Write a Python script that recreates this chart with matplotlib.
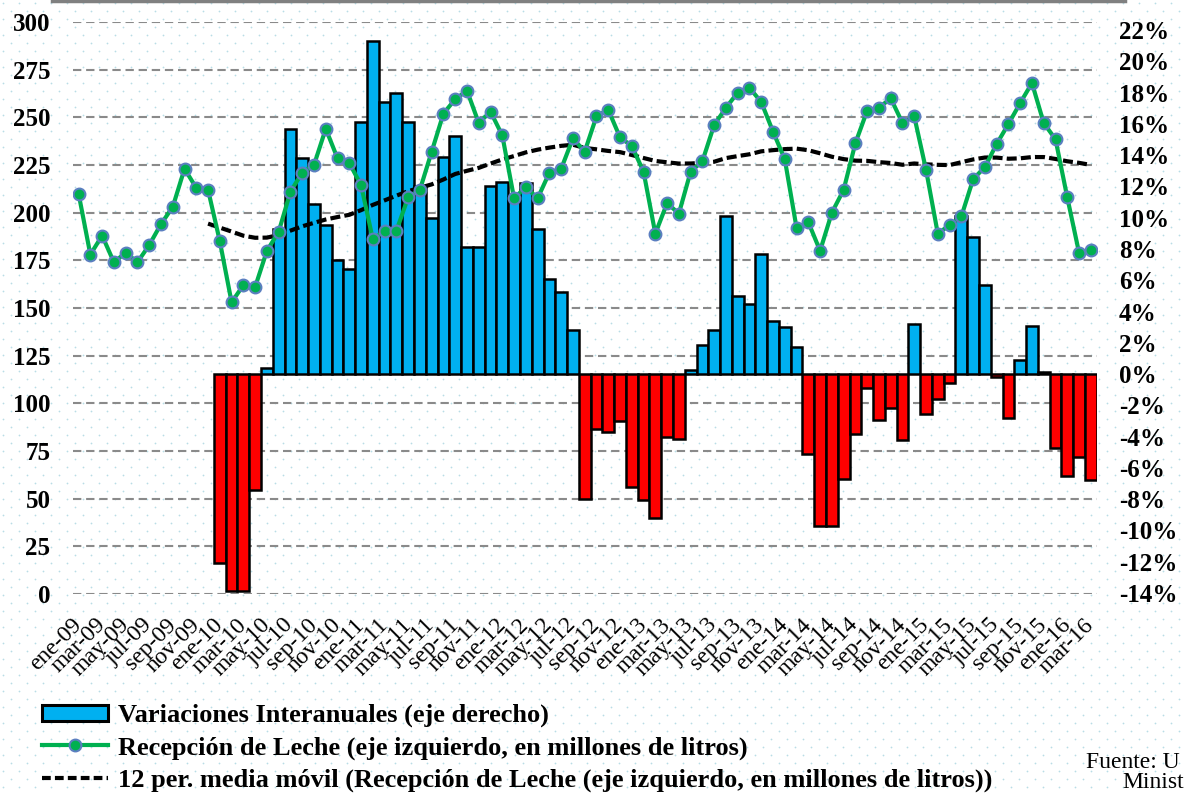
import numpy as np
import pandas as pd
import matplotlib
matplotlib.use('Agg')
import matplotlib.pyplot as plt
from matplotlib.lines import Line2D
from matplotlib.patches import Patch

plt.rcParams['font.family'] = ['Liberation Serif', 'DejaVu Serif']

# ---------------- data ----------------
month_abbr = ['ene', 'feb', 'mar', 'abr', 'may', 'jun', 'jul', 'ago', 'sep', 'oct', 'nov', 'dic']
categories = [f"{m}-{y:02d}" for y in range(9, 17) for m in month_abbr][:87]

# Recepción de Leche (millones de litros), ene-09 .. mar-16
milk = [210, 178, 188, 174, 179, 174, 183, 194, 203, 223, 213, 212,
        185, 153, 162, 161, 180, 190, 211, 221, 225, 244, 228.5, 226,
        214.5, 186, 190.5, 190.5, 208, 212, 232, 252, 259.5, 264, 247, 253,
        240.5, 207.5, 213.5, 207.5, 221, 223, 239, 232, 250.5, 254, 239.5, 235,
        221.5, 189, 205, 199.5, 221.5, 227, 246, 255, 263, 265.5, 258, 242.5,
        228, 192, 195, 180, 200, 212, 236.5, 253.5, 255, 260, 247, 250.5,
        222.5, 189, 193.5, 198, 217.5, 224, 236, 246.5, 257.5, 268, 247, 238.5,
        208, 179, 180.5]

# Variaciones interanuales (%), ene-10 .. mar-16
var_start = 12
variation = [-12.1, -13.9, -13.9, -7.4, 0.4, 9.3, 15.7, 13.8, 10.9, 9.5, 7.3, 6.75,
             16.1, 21.3, 17.4, 18.0, 16.1, 12.0, 10.0, 13.9, 15.2, 8.1, 8.1, 12.0,
             12.3, 11.3, 12.2, 9.25, 6.05, 5.25, 2.8, -8.0, -3.5, -3.7, -3.0, -7.25,
             -8.05, -9.2, -4.05, -4.15, 0.25, 1.85, 2.8, 10.1, 5.0, 4.5, 7.65, 3.4,
             3.0, 1.7, -5.1, -9.7, -9.7, -6.7, -3.85, -0.9, -2.95, -2.15, -4.2, 3.2,
             -2.55, -1.6, -0.55, 10.1, 8.75, 5.7, -0.2, -2.8, 0.9, 3.05, 0.15, -4.75,
             -6.5, -5.3, -6.8]

left_ticks = list(range(0, 301, 25))
right_ticks = list(range(-14, 23, 2))

labels = ["Variaciones Interanuales (eje derecho)",
          "Recepción de Leche (eje izquierdo, en millones de litros)",
          "12 per. media móvil (Recepción de Leche (eje izquierdo, en millones de litros))"]

# ---------------- styles ----------------
BLUE = '#00B0F0'
RED = '#FF0000'
GREEN = '#00B050'
MEDGE = '#5B7FC0'
W, H = 1184, 794

fig = plt.figure(figsize=(W / 100, H / 100), dpi=100)

# dotted background pattern
bg = fig.add_axes([0, 0, 1, 1], zorder=0)
bg.set_xlim(0, W)
bg.set_ylim(H, 0)
bg.axis('off')
xs, ys = [], []
row = 0
for yy in np.arange(3, H, 8.0):
    off = 0 if row % 2 == 0 else 8.0
    for xx in np.arange(3 + off, W, 16.0):
        xs.append(xx)
        ys.append(yy)
    row += 1
bg.scatter(xs, ys, s=1.6, color='#b9dde6', linewidths=0)

# main axes geometry (pixels)
x0, x1, y0, y1 = 72.7, 1096.7, 22, 594
rect = [x0 / W, 1 - y1 / H, (x1 - x0) / W, (y1 - y0) / H]

ax = fig.add_axes(rect, zorder=1)
ax.patch.set_visible(False)
n = len(milk)
x = np.arange(n)
ax.set_xlim(-0.5, n - 0.5)
ax.set_ylim(0, 300)
ax.set_yticks(left_ticks)
ax.set_yticklabels([str(t) for t in left_ticks], fontsize=18, fontweight='bold')
ax.yaxis.grid(True, linestyle=(0, (4, 2.3)), color='#8a8a8a', linewidth=1.5)
ax.set_axisbelow(True)
ax.set_xticks(x[::2])
ax.set_xticklabels(categories[::2], rotation=45, ha='right', va='center',
                   rotation_mode='anchor', fontsize=17)
ax.tick_params(axis='y', length=0, pad=16)
ax.tick_params(axis='x', length=0, pad=20)
for s in ax.spines.values():
    s.set_visible(False)

# bars on secondary (right) axis
ax2 = ax.twinx()
ax2.set_zorder(2)
ax2.patch.set_visible(False)
ax2.set_ylim(-14.06, 22.51)
bx = np.arange(var_start, var_start + len(variation))
bcol = [BLUE if v >= 0 else RED for v in variation]
ax2.bar(bx, variation, width=1.0, color=bcol, edgecolor='black', linewidth=1.8)
ax2.set_yticks(right_ticks)
ax2.set_yticklabels([f"{t}%" for t in right_ticks], fontsize=18, fontweight='bold')
ax2.tick_params(axis='y', length=0, pad=16)
for s in ax2.spines.values():
    s.set_visible(False)

# lines on a third axes sharing the left scale
ax3 = ax.twinx()
ax3.set_zorder(3)
ax3.patch.set_visible(False)
ax3.set_ylim(0, 300)
ax3.set_yticks([])
for s in ax3.spines.values():
    s.set_visible(False)
ma = pd.Series(milk).rolling(12).mean()
ax3.plot(x, ma, color='black', linewidth=3, linestyle=(0, (2.4, 1.0)), zorder=2)
ax3.plot(x, milk, color=GREEN, linewidth=3, marker='o', markersize=8.5,
         markerfacecolor=GREEN, markeredgecolor=MEDGE, markeredgewidth=1.5, zorder=3)

# legend
handles = [Patch(facecolor=BLUE, edgecolor='black', linewidth=2.2),
           Line2D([], [], color=GREEN, linewidth=3, marker='o', markersize=8.5,
                  markerfacecolor=GREEN, markeredgecolor=MEDGE, markeredgewidth=1.5),
           Line2D([], [], color='black', linewidth=3, linestyle=(0, (2.1, 1.0)))]
fig.legend(handles, labels, loc='upper left', bbox_to_anchor=(42 / W, 1 - 704 / H),
           frameon=False, prop=dict(weight='bold', size=19), handlelength=2.5,
           handletextpad=0.38, labelspacing=0.33, borderpad=0, borderaxespad=0,
           handleheight=0.55)

# source text (at the right edge)
fig.text(1086 / W, 1 - 763 / H, "Fuente: U", fontsize=17, ha='left', va='center')
fig.text(1122 / W, 1 - 793 / H, "Minist", fontsize=17, ha='left', va='bottom')

# top border line
fig.add_artist(Line2D([52 / W, 1125 / W], [1 - 1.2 / H, 1 - 1.2 / H],
                      color='#808080', linewidth=2.5))

fig.savefig('out.png', dpi=100)
